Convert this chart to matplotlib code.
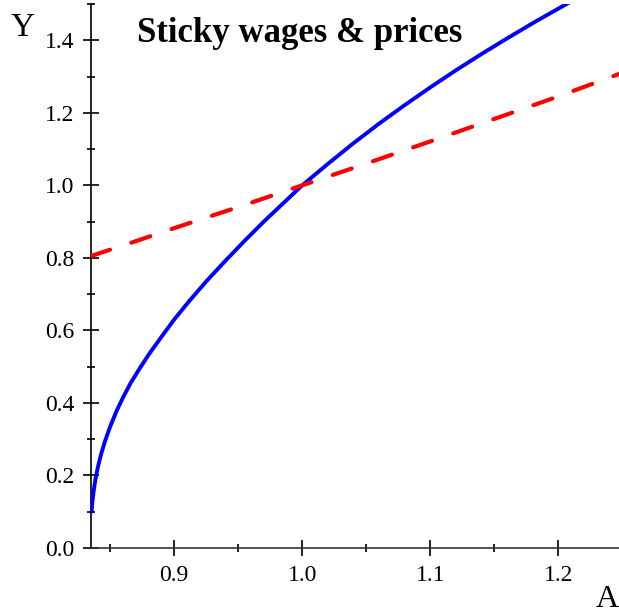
import numpy as np
import matplotlib.pyplot as plt
from matplotlib.ticker import MultipleLocator

# blue curve: output Y against A
a_blue = [0.8355, 0.8360, 0.8370, 0.8385, 0.8405, 0.8430, 0.8460, 0.8500, 0.8550,
          0.8600, 0.8660, 0.8730, 0.8810, 0.8900, 0.9000, 0.9120, 0.9250, 0.9400,
          0.9550, 0.9700, 0.9850, 1.0000, 1.0200, 1.0400, 1.0600, 1.0800, 1.1000,
          1.1200, 1.1400, 1.1600, 1.1800, 1.2000, 1.2130]
y_blue = [0.100, 0.125, 0.155, 0.190, 0.225, 0.260, 0.295, 0.335, 0.378,
          0.415, 0.455, 0.495, 0.538, 0.582, 0.630, 0.682, 0.735, 0.792,
          0.847, 0.900, 0.950, 1.000, 1.059, 1.116, 1.170, 1.221, 1.270,
          1.317, 1.362, 1.405, 1.447, 1.487, 1.513]

# red dashed curve
a_red = [0.835, 0.870, 0.900, 0.950, 1.000, 1.050, 1.100, 1.150, 1.200, 1.2475]
y_red = [0.805, 0.846, 0.882, 0.940, 1.000, 1.060, 1.121, 1.183, 1.245, 1.307]

title = 'Sticky wages & prices'
x_name = 'A'
y_name = 'Y'

plt.rcParams['font.family'] = ['Liberation Serif', 'DejaVu Serif']

fig = plt.figure(figsize=(6.19, 6.14), dpi=100)
ax = fig.add_axes([91 / 619, 66 / 614, 528 / 619, 544 / 614])

ax.plot(a_blue, y_blue, color='#0000ff', lw=2.8, solid_capstyle='round',
        solid_joinstyle='round', zorder=3)
ax.plot(a_red, y_red, color='#ff0000', lw=3.0, linestyle=(0, (4.8, 5.4)),
        dash_capstyle='round', zorder=3)

ax.set_xlim(0.835, 1.2475)
ax.set_ylim(0, 1.5)

for side in ['top', 'right']:
    ax.spines[side].set_visible(False)
for side in ['left', 'bottom']:
    ax.spines[side].set_linewidth(1.2)
ax.spines['bottom'].set_color('#333333')

ax.xaxis.set_major_locator(MultipleLocator(0.1))
ax.xaxis.set_minor_locator(MultipleLocator(0.05))
ax.yaxis.set_major_locator(MultipleLocator(0.2))
ax.yaxis.set_minor_locator(MultipleLocator(0.1))
ax.xaxis.set_major_formatter(lambda v, p: f'{v:.1f}')
ax.yaxis.set_major_formatter(lambda v, p: f'{v:.1f}')

ax.tick_params(which='major', direction='inout', length=12, width=1.2, labelsize=17)
ax.tick_params(which='minor', direction='inout', length=5.5, width=1.2)
ax.tick_params(axis='y', which='major', pad=6)
ax.tick_params(axis='x', which='major', pad=6)

ax.text(0.871, 1.394, title, fontsize=25, fontweight='bold', ha='left', va='baseline')
fig.text(11 / 619, 1 - 36 / 614, y_name, fontsize=24, ha='left', va='baseline')
fig.text(596 / 619, 1 - 607 / 614, x_name, fontsize=23, ha='left', va='baseline')

fig.savefig('out.png', dpi=100)
